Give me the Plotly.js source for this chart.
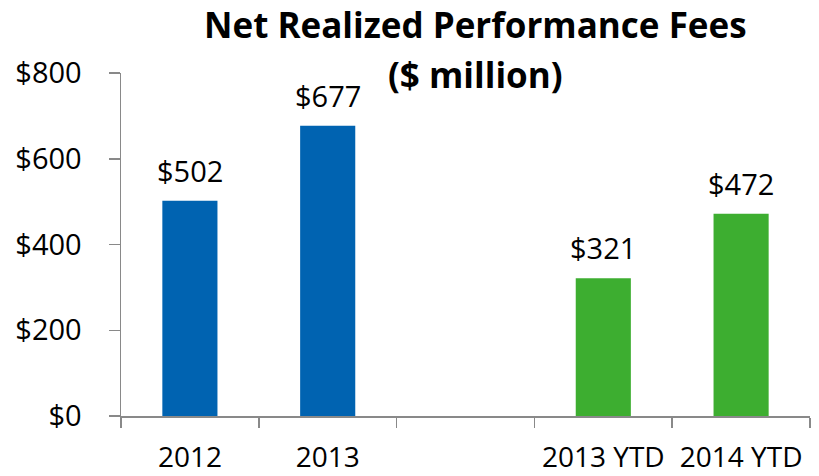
<!DOCTYPE html>
<html>
<head>
<meta charset="utf-8">
<script src="https://cdn.plot.ly/plotly-3.0.1.min.js"></script>
<style>
  html, body { margin: 0; padding: 0; background: #fff; }
  #chart { width: 819px; height: 476px; }
</style>
</head>
<body>
<div id="chart"></div>
<script>
// categories, a blank slot separates full years from YTD
var periods = ['2012', '2013', '\u00a0', '2013 YTD', '2014 YTD'];
var fees = [502, 677, null, 321, 472];
var feeLabels = ['$502', '$677', '', '$321', '$472'];
var titleLines = ['Net Realized Performance Fees', '($ million)'];

var blue = 'rgb(0, 99, 177)';
var green = 'rgb(61, 174, 48)';
var barColors = [blue, blue, blue, green, green];

var fontFam = '"Segoe UI", "Open Sans", "Noto Sans", sans-serif';

var trace = {
    type: 'bar',
    x: periods,
    y: fees,
    marker: { color: barColors },
    hoverinfo: 'x+y'
};

var notes = [];
for (let i = 0; i < periods.length; i++) {
    if (fees[i] == null) continue;
    notes.push({
        x: i,            // serial number on the category axis
        y: fees[i],
        xref: 'x',
        yref: 'y',
        text: feeLabels[i],
        showarrow: false,
        yanchor: 'bottom',
        yshift: 9,
        font: { family: fontFam, size: 29, color: '#000' }
    });
}

// chart title, two bold lines, the second one overlaps the plot top
var titleY = [25, 74];  // line centres in px from the top of the page
for (let k = 0; k < titleLines.length; k++) {
    notes.push({
        text: '<b>' + titleLines[k] + '</b>',
        xref: 'paper',
        yref: 'paper',
        x: (475 - 121) / 689,
        y: (416 - titleY[k]) / 343,
        xanchor: 'center',
        yanchor: 'middle',
        showarrow: false,
        font: { family: fontFam, size: 35, color: '#000' }
    });
}

var layout = {
    width: 819,
    height: 476,
    margin: { l: 121, r: 9, t: 73, b: 60 },
    paper_bgcolor: '#fff',
    plot_bgcolor: '#fff',
    showlegend: false,
    bargap: 0.6,
    xaxis: {
        type: 'category',
        categoryorder: 'array',
        categoryarray: periods,
        range: [-0.5, 4.5],
        showline: true,
        linecolor: 'rgb(137, 137, 137)',
        linewidth: 1.5,
        ticks: 'outside',
        tickson: 'boundaries',
        ticklen: 10,
        tickcolor: 'rgb(137, 137, 137)',
        tickwidth: 1.5,
        tickangle: 0,
        ticklabelstandoff: 16,
        tickfont: { family: fontFam, size: 28, color: '#000' },
        showgrid: false,
        zeroline: false,
        fixedrange: true
    },
    yaxis: {
        range: [0, 800],
        tickvals: [0, 200, 400, 600, 800],
        ticktext: ['$0', '$200', '$400', '$600', '$800'],
        showline: true,
        linecolor: 'rgb(137, 137, 137)',
        linewidth: 1.5,
        ticks: 'outside',
        ticklen: 11,
        tickcolor: 'rgb(137, 137, 137)',
        tickwidth: 1.5,
        ticklabelstandoff: 21,
        tickfont: { family: fontFam, size: 29, color: '#000' },
        showgrid: false,
        zeroline: false,
        fixedrange: true
    },
    annotations: notes
};

Plotly.newPlot('chart', [trace], layout, { displayModeBar: false, staticPlot: true });
</script>
</body>
</html>
